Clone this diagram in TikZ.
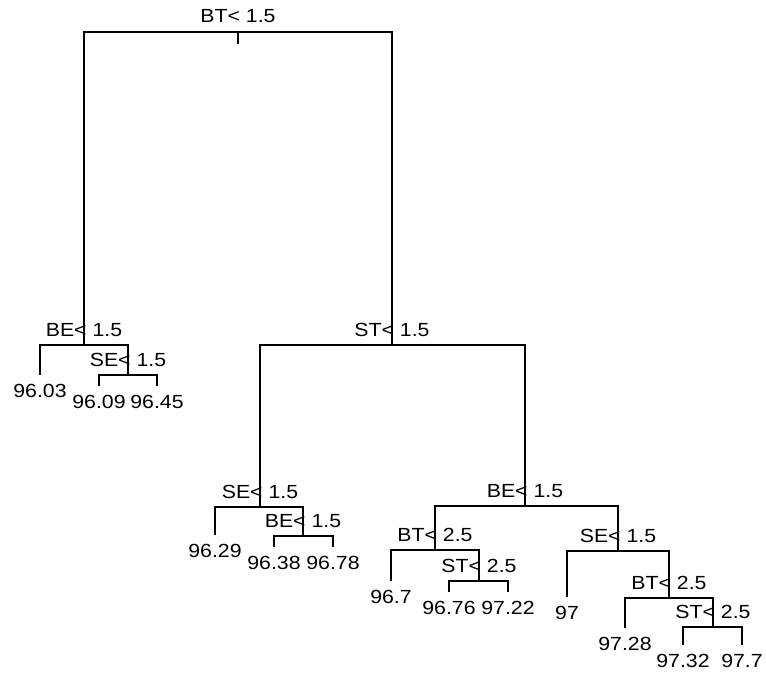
\documentclass[tikz,border=0pt]{standalone}
\usepackage{fontspec}
\setmainfont{Liberation Sans}[FakeStretch=1.12]
\usepackage{tikz}
\usetikzlibrary{positioning}
\tikzset{
  split/.style={inner sep=0pt, font=\fontsize{19}{20}\selectfont},
  leaf/.style={inner sep=0pt, font=\fontsize{19}{20}\selectfont},
  branch/.style={line width=1.5pt}
}

\begin{document}
\begin{tikzpicture}[x=1pt,y=1pt]
   \useasboundingbox (0,0) rectangle (766,674);
   % split points and leaf ends
   \coordinate (root) at (238,642);
   \coordinate (stub) at (238,630);
   \coordinate (nBE) at (84,329);
   \coordinate (nSEa) at (128,299);
   \coordinate (eA) at (40,299);
   \coordinate (eB) at (99,288);
   \coordinate (eC) at (157,288);
   \coordinate (nST) at (392,329);
   \coordinate (nSEb) at (260,167);
   \coordinate (eD) at (215,139);
   \coordinate (nBEb) at (303,138);
   \coordinate (eE) at (274,127);
   \coordinate (eF) at (333,127);
   \coordinate (nBEc) at (525,168);
   \coordinate (nBTb) at (435,124);
   \coordinate (eG) at (391,93);
   \coordinate (nSTb) at (479,93);
   \coordinate (eH) at (449,82);
   \coordinate (eI) at (508,82);
   \coordinate (nSEc) at (618,123);
   \coordinate (eJ) at (567,77);
   \coordinate (nBTc) at (669,76);
   \coordinate (eK) at (625,46);
   \coordinate (nSTc) at (713,47);
   \coordinate (eL) at (683,29);
   \coordinate (eM) at (742,29);
   % branches
   \draw[branch] (root) -- (stub);
   \draw[branch] (nBE) |- (root) -| (nST);
   \draw[branch] (eA) |- (nBE) -| (nSEa);
   \draw[branch] (eB) |- (nSEa) -| (eC);
   \draw[branch] (nSEb) |- (nST) -| (nBEc);
   \draw[branch] (eD) |- (nSEb) -| (nBEb);
   \draw[branch] (eE) |- (nBEb) -| (eF);
   \draw[branch] (nBTb) |- (nBEc) -| (nSEc);
   \draw[branch] (eG) |- (nBTb) -| (nSTb);
   \draw[branch] (eH) |- (nSTb) -| (eI);
   \draw[branch] (eJ) |- (nSEc) -| (nBTc);
   \draw[branch] (eK) |- (nBTc) -| (nSTc);
   \draw[branch] (eL) |- (nSTc) -| (eM);
   % split labels
   \node[split, above=9pt of root] (lroot) {BT< 1.5};
   \node[split, above=8pt of nBE] (lBE) {BE< 1.5};
   \node[split, above=8pt of nSEa] (lSEa) {SE< 1.5};
   \node[split, above=8pt of nST] (lST) {ST< 1.5};
   \node[split, above=8pt of nSEb] (lSEb) {SE< 1.5};
   \node[split, above=8pt of nBEb] (lBEb) {BE< 1.5};
   \node[split, above=8pt of nBEc] (lBEc) {BE< 1.5};
   \node[split, above=8pt of nBTb] (lBTb) {BT< 2.5};
   \node[split, above=8pt of nSTb] (lSTb) {ST< 2.5};
   \node[split, above=8pt of nSEc] (lSEc) {SE< 1.5};
   \node[split, above=8pt of nBTc] (lBTc) {BT< 2.5};
   \node[split, above=8pt of nSTc] (lSTc) {ST< 2.5};
   % leaf labels
   \node[leaf, below=9pt of eA] (lA) {96.03};
   \node[leaf, below=9pt of eB] (lB) {96.09};
   \node[leaf, below=9pt of eC] (lC) {96.45};
   \node[leaf, below=9pt of eD] (lD) {96.29};
   \node[leaf, below=9pt of eE] (lE) {96.38};
   \node[leaf, below=9pt of eF] (lF) {96.78};
   \node[leaf, below=9pt of eG] (lG) {96.7};
   \node[leaf, below=9pt of eH] (lH) {96.76};
   \node[leaf, below=9pt of eI] (lI) {97.22};
   \node[leaf, below=9pt of eJ] (lJ) {97};
   \node[leaf, below=9pt of eK] (lK) {97.28};
   \node[leaf, below=9pt of eL] (lL) {97.32};
   \node[leaf, below=9pt of eM] (lM) {97.7};
\end{tikzpicture}
\end{document}
